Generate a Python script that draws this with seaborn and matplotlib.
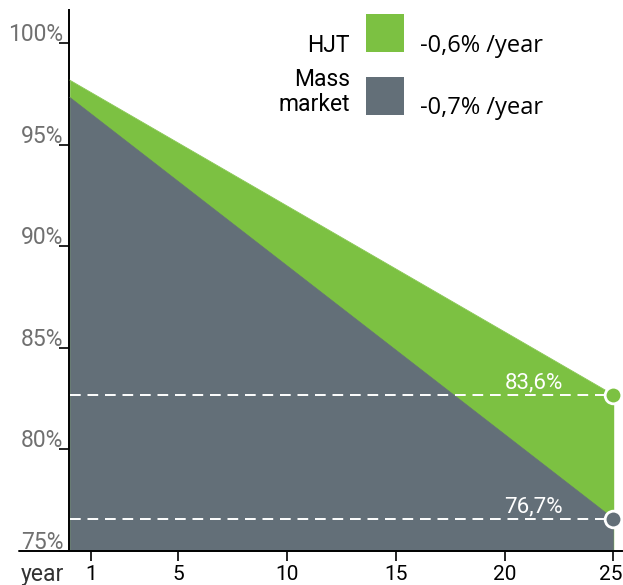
import matplotlib
matplotlib.use("Agg")
import matplotlib.pyplot as plt
import matplotlib.transforms as mtransforms
import seaborn as sns
import pandas as pd
from matplotlib.patches import Rectangle
from matplotlib.lines import Line2D

# ---- data ----
years = [0, 25]
hjt = [98.2, 82.7]
mass = [97.35, 76.6]
series_names = ["HJT", "Mass\nmarket"]
rates = ["-0,6% /year", "-0,7% /year"]
end_labels = ["83,6%", "76,7%"]
xticks = [1, 5, 10, 15, 20, 25]
yticks = [75, 80, 85, 90, 95, 100]
ytick_labels = ["75%", "80%", "85%", "90%", "95%", "100%"]

GREEN = "#7cc142"
GRAY = "#636f78"

sns.set_theme(style="white")
plt.rcParams["font.family"] = ["Roboto", "DejaVu Sans"]

W, H = 623, 585
fig = plt.figure(figsize=(W / 100, H / 100), dpi=100)

def fx(px):
    return px / W

def fy(py):
    return 1 - py / H

ax_left_px, ax_right_px = 69, 622
ax_top_px, ax_bot_px = 10, 551
ax = fig.add_axes([fx(ax_left_px), fy(ax_bot_px), fx(ax_right_px - ax_left_px), (ax_bot_px - ax_top_px) / H])

df = pd.DataFrame({"year": years + years,
                   "value": hjt + mass,
                   "series": ["HJT"] * 2 + ["Mass"] * 2})

ax.fill_between(years, 75, hjt, color=GREEN, lw=0, zorder=1)
ax.fill_between(years, 75, mass, color=GRAY, lw=0, zorder=2)
sns.lineplot(data=df, x="year", y="value", hue="series", palette=[GREEN, GRAY],
             legend=False, ax=ax, lw=0.5, zorder=3)
ax.plot([years[-1], years[-1]], [75, hjt[-1]], color=GREEN, lw=1, zorder=1)

ax.set_xlim(-0.03, 25.4)
ax.set_ylim(75, 101.65)

# dashed reference lines and endpoint markers
for val, col, lab in [(hjt[-1], GREEN, end_labels[0]), (mass[-1], GRAY, end_labels[1])]:
    ax.plot([0, years[-1]], [val, val], color="white", lw=1.4, ls=(0, (5.5, 3.5)), zorder=4)
    ax.plot([years[-1]], [val], marker="o", ms=12, mfc=col, mec="white", mew=2,
            zorder=6, clip_on=False)
    ax.text(22.67, val + 0.3, lab, color="white", fontsize=16, ha="right", va="baseline", zorder=5)

for s in ["top", "right"]:
    ax.spines[s].set_visible(False)
for s in ["left", "bottom"]:
    ax.spines[s].set_color("black")
    ax.spines[s].set_linewidth(1.4)

ax.set_xticks(xticks)
ax.set_xticklabels([str(t) for t in xticks], fontsize=15, color="black")
ax.tick_params(axis="x", bottom=True, direction="out", length=7, width=1.2, color="black", pad=3)
last = ax.get_xticklabels()[-1]
last.set_transform(last.get_transform() + mtransforms.ScaledTranslation(-3 / 100, 0, fig.dpi_scale_trans))
ax.set_yticks(yticks)
ax.set_yticklabels([])
ax.tick_params(axis="y", left=True, direction="out", length=7, width=1.2, color="black")
for t, lab in zip(yticks, ytick_labels):
    ax.text(-0.29, t + 0.12, lab, ha="right", va="baseline", fontsize=16.5, color="#707070")
ax.set_xlabel("")
ax.set_ylabel("")

# extended x-axis line to the left
fig.add_artist(Line2D([fx(19), fx(69)], [fy(551), fy(551)], color="black", lw=1.4))
fig.text(fx(21), fy(581), "year", fontsize=16.5, color="#333333", ha="left", va="baseline")

# legend
fig.add_artist(Rectangle((fx(366), fy(52)), fx(38), 38 / H, color=GREEN, lw=0))
fig.add_artist(Rectangle((fx(366), fy(115)), fx(38), 38 / H, color=GRAY, lw=0))
fig.text(fx(350), fy(52), series_names[0], fontsize=16.5, ha="right", va="baseline", color="black")
fig.text(fx(350), fy(92), series_names[1], fontsize=16.5, ha="right", va="center",
         color="black", linespacing=1.15, multialignment="right")
fig.text(fx(420), fy(52), rates[0], fontsize=17, ha="left", va="baseline", color="black",
         family=["Open Sans", "DejaVu Sans"])
fig.text(fx(420), fy(114), rates[1], fontsize=17, ha="left", va="baseline", color="black",
         family=["Open Sans", "DejaVu Sans"])

fig.savefig("out.png", dpi=100)
